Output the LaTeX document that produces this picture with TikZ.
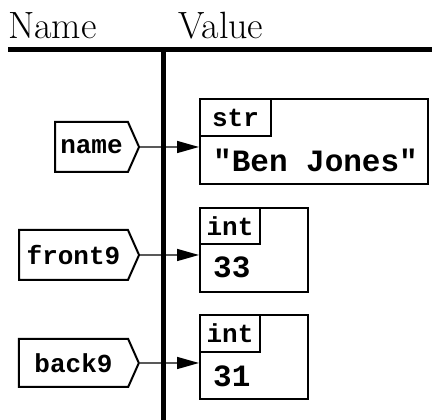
\documentclass[tikz,border=0pt]{standalone}
\usepackage{fontspec}
\newfontfamily\codefont{Liberation Mono}[Ligatures=TeXOff]
\usetikzlibrary{arrows.meta,shapes.symbols,positioning}

\begin{document}
\begin{tikzpicture}[
	x=1pt, y=1pt,
	head/.style = {font=\fontsize{38}{42}\selectfont, anchor=base west, inner sep=0},
	bar/.style = {line width=5pt},
	nametag/.style = {shape=signal, signal to=east, signal pointer angle=132,
		draw, line width=2pt, minimum height=49pt, inner sep=0,
		font=\codefont\bfseries\fontsize{26}{30}\selectfont},
	valbox/.style = {draw, line width=2pt, anchor=north west, inner sep=0,
		minimum height=85pt},
	typebox/.style = {draw, line width=2pt, anchor=north west, inner sep=0,
		minimum height=37pt, font=\codefont\bfseries\fontsize{26}{30}\selectfont},
	valtext/.style = {anchor=base west, inner sep=0,
		font=\codefont\bfseries\fontsize{31}{34}\selectfont},
	ptr/.style = {draw=black!65, line width=1.5pt,
		-{Triangle[length=22pt, width=12pt, color=black]}}
]
\useasboundingbox (0,0) rectangle (432,420);

% column heads
\node[head] (hname) at (8,381) {Name};
\node[head] (hvalue) at (178,381) {Value};

% values
\node[valbox, minimum width=228pt] (strval) at (199,322) {};
\node[typebox, minimum width=71pt] (strtype) at (strval.north west) {str};
\node[valtext] (strtext) at (213,248) {"Ben Jones"};

\node[valbox, minimum width=108pt, minimum height=84pt] (intval1) at (199,213) {};
\node[typebox, minimum width=60pt, minimum height=36pt] (inttype1) at (intval1.north west) {int};
\node[valtext] (inttext1) at (213,142) {33};

\node[valbox, minimum width=108pt, minimum height=84pt] (intval2) at (199,106) {};
\node[typebox, minimum width=60pt] (inttype2) at (intval2.north west) {int};
\node[valtext] (inttext2) at (213,33) {31};

% names
\node[nametag, minimum width=84pt, minimum height=50pt] (vname) at (91.5,273) {name};
\node[nametag, minimum width=120pt, minimum height=50pt] (vfront) at (73.5,165) {front9};
\node[nametag, minimum width=120pt, minimum height=48pt] (vback) at (73.5,57) {back9};

% references
\draw[ptr] (vname.east) -- (vname.east -| strval.west);
\draw[ptr] (vfront.east) -- (vfront.east -| intval1.west);
\draw[ptr] (vback.east) -- (vback.east -| intval2.west);

% table lines
\coordinate (corner) at (163,370);
\draw[bar] (8,370) -- (432,370);
\draw[bar] (corner) -- (163,0);
\end{tikzpicture}
\end{document}
